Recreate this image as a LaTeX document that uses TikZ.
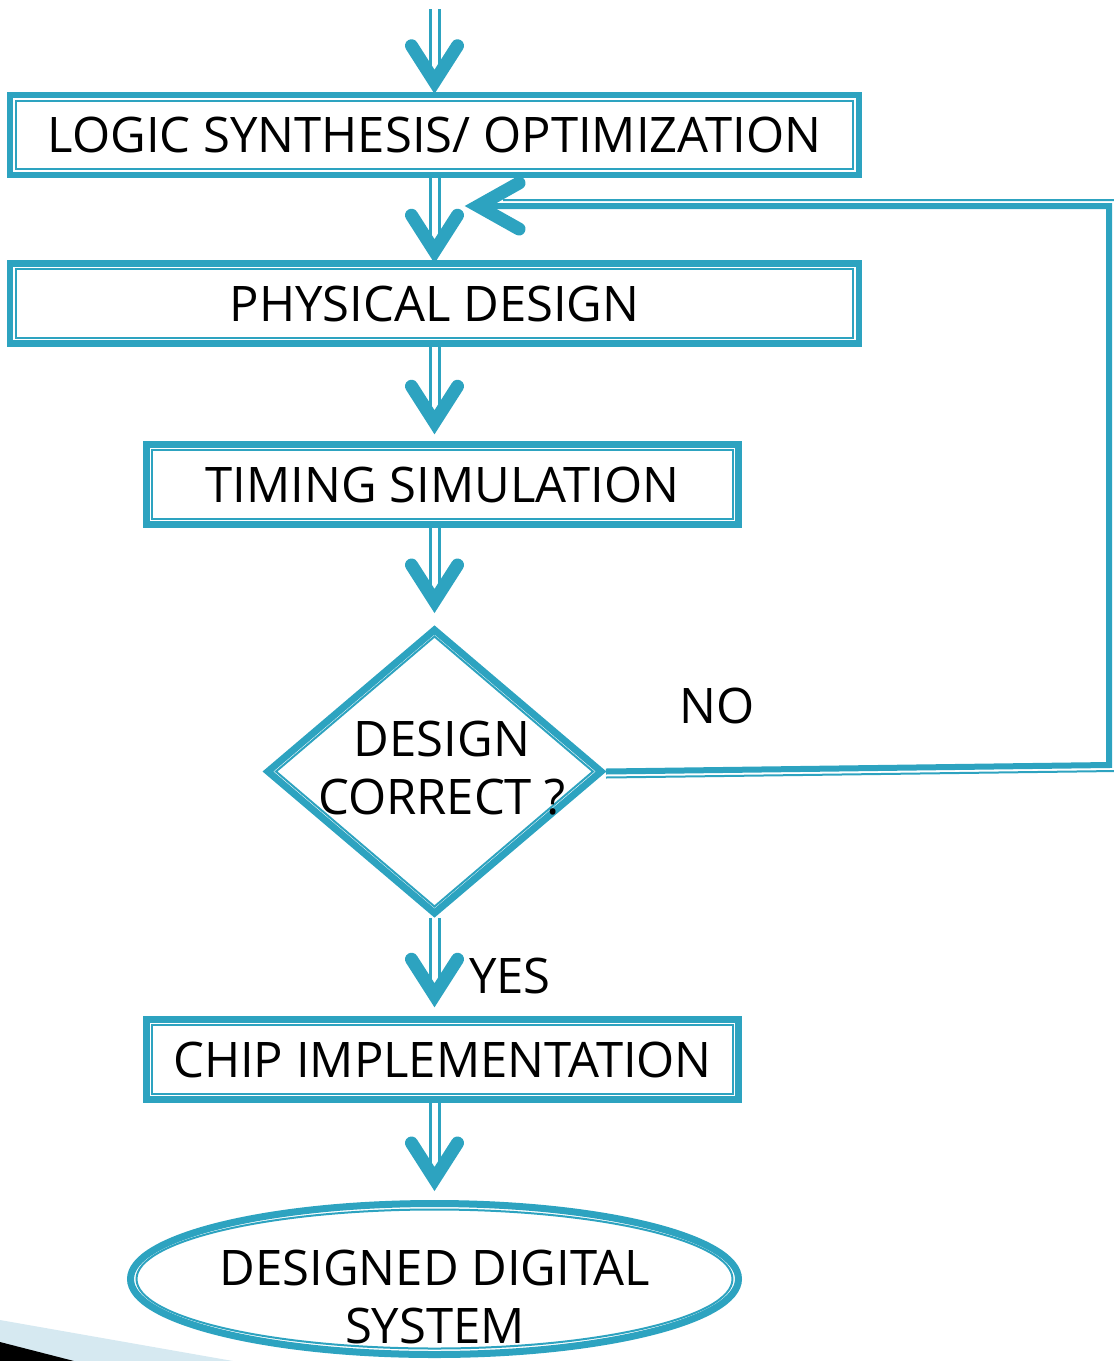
\documentclass[tikz,border=0pt]{standalone}
\usepackage{fontspec}
\setmainfont{Open Sans}
\usetikzlibrary{shapes.geometric,calc}
\definecolor{flow}{RGB}{45,163,192}
\definecolor{paleblue}{RGB}{214,233,241}

% V-shaped arrow head pointing down, vertex given as a coordinate
\newcommand{\downhead}[1]{\draw[vhead] ($#1+(-23,-36)$) -- #1 -- ($#1+(23,-36)$);}

\begin{document}
\begin{tikzpicture}[x=1pt,y=-1pt,
  stepbox/.style={rectangle, draw=flow, line width=6.5pt, fill=white, inner sep=0pt,
                  minimum height=80, font=\fontsize{49}{58}\selectfont},
  lbl/.style={font=\fontsize{49}{58}\selectfont, inner sep=0pt, align=center, text=black},
  shaft/.style={draw=flow, line width=3pt, double=white, double distance=6pt},
  vhead/.style={draw=flow, line width=13pt, line cap=round, line join=miter},
  thinrule/.style={draw=flow, line width=2pt},
  loopline/.style={draw=flow, line width=6pt, line join=miter}]

\useasboundingbox (0,0) rectangle (1114,1361);

% slide corner decoration
\fill[paleblue] (0,1320) -- (233,1361) -- (0,1361) -- cycle;
\fill[black] (0,1342) -- (74,1361) -- (0,1361) -- cycle;

% process boxes (anchors sit on the outer edge of the thick border)
\node[stepbox, minimum width=849] (b1) at (434.5,135) {LOGIC SYNTHESIS/ OPTIMIZATION};
\node[stepbox, minimum width=849] (b2) at (434.5,303.5) {PHYSICAL DESIGN};
\node[stepbox, minimum width=592] (b3) at (442.5,484.5) {TIMING SIMULATION};
\node[stepbox, minimum width=592] (b4) at (442.5,1059.5) {CHIP IMPLEMENTATION};
\foreach \n in {b1,b2,b3,b4}{
  \draw[thinrule] ([shift={(9,9)}]\n.north west) rectangle ([shift={(-9,-9)}]\n.south east);
}

% decision
\node[diamond, draw=flow, line width=7pt, fill=white, inner sep=0pt,
      minimum width=336, minimum height=286] (dec) at (434.5,771.5) {};
\draw[thinrule] ($(dec.center)+(0,-135)$) -- ($(dec.center)+(158.5,0)$)
  -- ($(dec.center)+(0,135)$) -- ($(dec.center)+(-158.5,0)$) -- cycle;
\node[lbl] (dectxt) at (442,768) {DESIGN\\CORRECT ?};

% terminal
\node[ellipse, draw=flow, line width=7pt, fill=white, inner sep=0pt,
      minimum width=608, minimum height=151] (sys) at (434.5,1279) {};
\draw[thinrule] (sys.center) ellipse [x radius=298, y radius=69.5];
\node[lbl] (systxt) at (435,1297) {DESIGNED DIGITAL\\SYSTEM};

% branch labels
\node[lbl] (no) at (717,706) {NO};
\node[lbl] (yes) at (510,976) {YES};

% arrow vertices
\coordinate (src) at (434.5,9);
\coordinate (v1) at ($(b1.north)+(0,-10)$);
\coordinate (v2) at ($(b2.north)+(0,-9)$);
\coordinate (v3) at ($(b2.south |- b3.north)+(0,-19)$);
\coordinate (v4) at ($(dec.north)+(0,-24)$);
\coordinate (v5) at ($(dec.south |- b4.north)+(0,-21)$);
\coordinate (v6) at ($(sys.north)+(0,-21)$);

% straight flow arrows
\draw[shaft] (src) -- (v1);
\draw[shaft] (b1.south) -- (v2);
\draw[shaft] (b2.south) -- (v3);
\draw[shaft] (b2.south |- b3.south) -- (v4);
\draw[shaft] (dec.south) -- (v5);
\draw[shaft] (dec.south |- b4.south) -- (v6);
\foreach \v in {v1,v2,v3,v4,v5,v6}{
  \downhead{(\v)}
}

% feedback loop on NO
\coordinate (fbR) at (1109,765);
\coordinate (fbT) at (1109,206);
\coordinate (fbV) at (478,206);
\draw[loopline] (dec.east) -- (fbR) -- (fbT) -- (fbV);
\draw[thinrule] ([shift={(0,6)}]dec.east) -- ([shift={(6,6)}]fbR)
  -- ([shift={(6,-6)}]fbT) -- ([shift={(25,-6)}]fbV);
\draw[vhead] ($(fbV)+(41,-23)$) -- (fbV) -- ($(fbV)+(41,23)$);
\end{tikzpicture}
\end{document}
